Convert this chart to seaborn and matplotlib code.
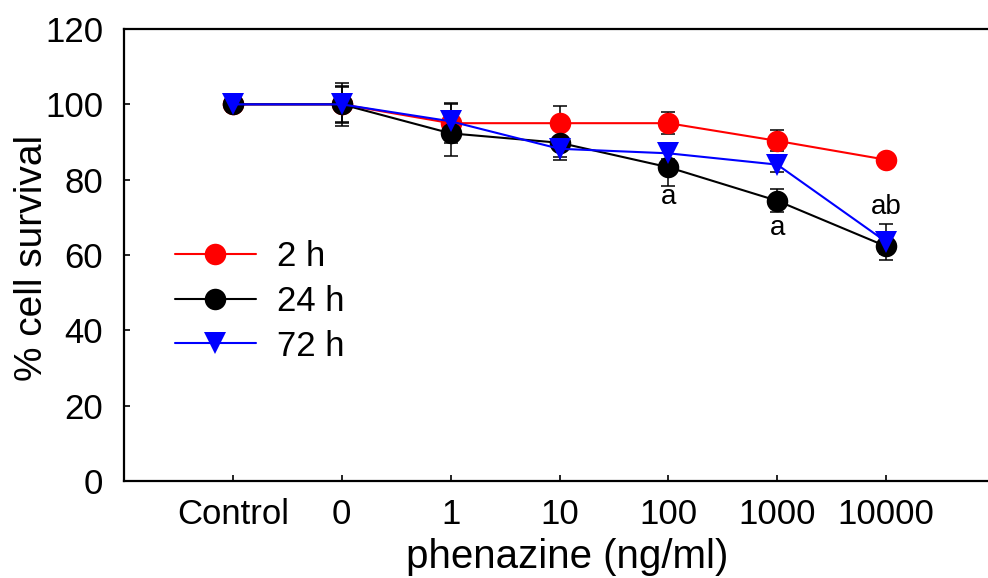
import numpy as np
import pandas as pd
import matplotlib
matplotlib.use('Agg')
import matplotlib.pyplot as plt
import seaborn as sns

# Data
doses = ['Control', '0', '1', '10', '100', '1000', '10000']
series = ['2 h', '24 h', '72 h']
surv_2h = [100, 100, 95, 95, 95, 90.3, 85.3]
surv_24h = [100, 100, 92.3, 89.8, 83.3, 74.4, 62.3]
surv_72h = [100, 100, 95.5, 88.2, 87.0, 84.0, 63.5]
err_2h = [1.5, 4.7, 5.3, 4.5, 3.0, 2.8, 1.0]
err_24h = [2.0, 5.8, 6.0, 3.8, 5.0, 3.0, 2.0]
err_72h = [1.8, 5.0, 4.5, 3.0, 1.5, 2.0, 4.8]
annot_x = ['100', '1000', '10000']
annot_y = [75.4, 67.2, 72.8]
annot_txt = ['a', 'a', 'ab']

colors = {'2 h': '#ff0000', '24 h': '#000000', '72 h': '#0000ff'}
markers = {'2 h': 'o', '24 h': 'o', '72 h': 'v'}

pos = np.arange(len(doses))
df = pd.DataFrame({
    'dose': np.tile(pos, 3),
    'survival': surv_2h + surv_24h + surv_72h,
    'err': err_2h + err_24h + err_72h,
    'time': np.repeat(series, len(doses)),
})

sns.set_style('ticks')
plt.rcParams['font.family'] = ['Liberation Sans', 'DejaVu Sans']
plt.rcParams['text.color'] = 'black'
plt.rcParams['axes.labelcolor'] = 'black'
plt.rcParams['xtick.color'] = 'black'
plt.rcParams['ytick.color'] = 'black'

fig = plt.figure(figsize=(9.88, 5.78), dpi=100)
ax = fig.add_axes([0.1255, 0.1678, 0.8816, 0.782])

# error bars (black, behind the markers)
for name in series:
    d = df[df['time'] == name]
    ax.errorbar(d['dose'], d['survival'], yerr=d['err'], fmt='none',
                ecolor='black', elinewidth=1.1, capsize=4.7, capthick=1.1, zorder=1)

sns.lineplot(data=df, x='dose', y='survival', hue='time', style='time',
             hue_order=series, style_order=series, palette=colors,
             markers=markers, dashes=False, markersize=15.5, linewidth=1.5,
             markeredgewidth=0, ax=ax, zorder=2, legend=True)

for xl, yv, t in zip(annot_x, annot_y, annot_txt):
    ax.text(doses.index(xl), yv, t, ha='center', va='center', fontsize=20)

ax.set_xlim(-1, 7)
ax.set_ylim(0, 120)
ax.set_xticks(pos)
ax.set_xticklabels(doses)
ax.set_yticks(range(0, 121, 20))
ax.tick_params(axis='x', direction='in', length=4, width=1.2, labelsize=25, pad=12)
ax.tick_params(axis='y', direction='in', length=4, width=1.2, labelsize=25, pad=15)
for s in ax.spines.values():
    s.set_linewidth(1.6)
    s.set_color('black')

ax.set_xlabel('phenazine (ng/ml)', fontsize=29)
ax.set_ylabel('% cell survival', fontsize=28)
ax.xaxis.set_label_coords(0.509, -0.125)
ax.yaxis.set_label_coords(-0.085, 0.494)

handles, labels = ax.get_legend_handles_labels()
ax.legend(handles, labels, loc='upper left', bbox_to_anchor=(175 / 988, 1 - 240 / 578),
          bbox_transform=fig.transFigure, frameon=False, fontsize=25,
          handlelength=2.33, handletextpad=0.6, labelspacing=0.34, borderpad=0,
          borderaxespad=0, markerscale=1.0)

fig.savefig('out.png', dpi=100)
